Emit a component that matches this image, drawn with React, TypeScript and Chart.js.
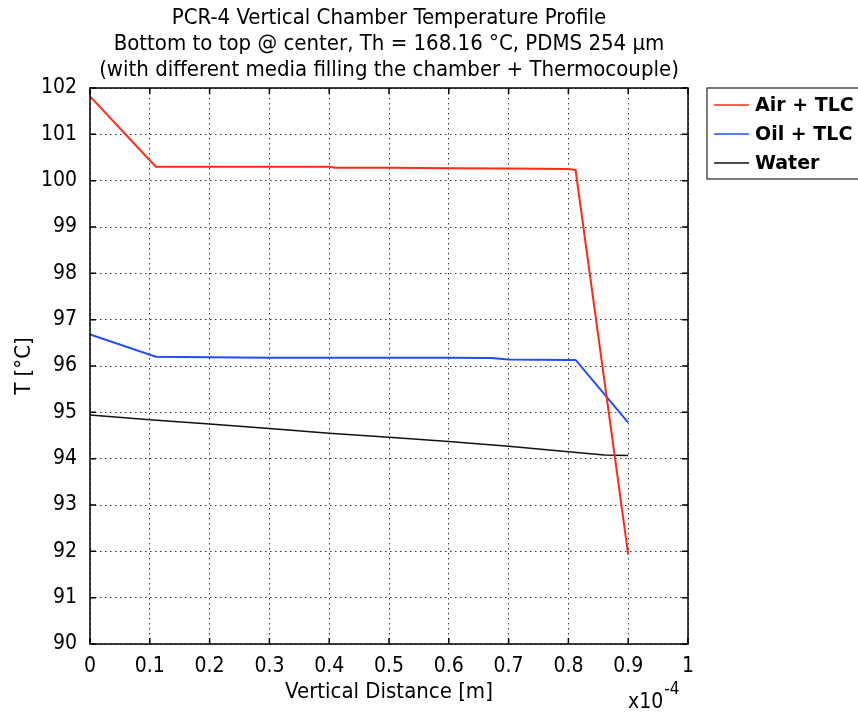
import React, { useEffect, useRef } from "react";
import { Chart, registerables } from "chart.js";

Chart.register(...registerables);

const FONT = '"DejaVu Sans Condensed", "Liberation Sans Narrow", "DejaVu Sans", sans-serif';
const LEGEND_FONT = '"DejaVu Sans", "Liberation Sans", sans-serif';

const titleLines = [
  "PCR-4 Vertical Chamber Temperature Profile",
  "Bottom to top @ center, Th = 168.16 °C, PDMS 254 µm",
  "(with different media filling the chamber + Thermocouple)",
];
const xAxisTitle = "Vertical Distance [m]";
const yAxisTitle = "T [°C]";
const seriesNames = ["Air + TLC", "Oil + TLC", "Water"];
const seriesColors = ["#ff2a14", "#1f4dff", "#111111"];

// x in units of 1e-4 m
const airX = [0, 0.11, 0.2, 0.3, 0.4, 0.41, 0.5, 0.6, 0.7, 0.8, 0.812, 0.9];
const airY = [101.82, 100.3, 100.3, 100.3, 100.3, 100.28, 100.28, 100.27, 100.26, 100.25, 100.23, 91.93];
const oilX = [0, 0.11, 0.2, 0.3, 0.4, 0.5, 0.6, 0.67, 0.7, 0.8, 0.812, 0.9];
const oilY = [96.68, 96.2, 96.19, 96.18, 96.18, 96.18, 96.18, 96.17, 96.14, 96.13, 96.13, 94.78];
const waterX = [0, 0.1, 0.2, 0.3, 0.4, 0.5, 0.6, 0.7, 0.8, 0.86, 0.9];
const waterY = [94.94, 94.84, 94.75, 94.65, 94.55, 94.46, 94.37, 94.27, 94.15, 94.08, 94.07];

const xMin = 0, xMax = 1, xStep = 0.1;
const yMin = 90, yMax = 102, yStep = 1;

const toPts = (xs: number[], ys: number[]) => xs.map((x, i) => ({ x, y: ys[i] }));

export default function App() {
  const ref = useRef<HTMLCanvasElement | null>(null);

  useEffect(() => {
    if (!ref.current) return;

    const decor = {
      id: "decor",
      beforeDraw(chart: any) {
        const { ctx, width, height } = chart;
        ctx.save();
        ctx.fillStyle = "#fff";
        ctx.fillRect(0, 0, width, height);
        ctx.restore();
      },
      afterDraw(chart: any) {
        const { ctx, chartArea: a, scales } = chart;
        ctx.save();
        // plot box
        ctx.strokeStyle = "#000";
        ctx.lineWidth = 1.5;
        ctx.setLineDash([]);
        ctx.strokeRect(a.left, a.top, a.right - a.left, a.bottom - a.top);
        // inner ticks
        const tl = 6;
        scales.x.ticks.forEach((t: any) => {
          const px = scales.x.getPixelForValue(t.value);
          ctx.beginPath();
          ctx.moveTo(px, a.bottom);
          ctx.lineTo(px, a.bottom - tl);
          ctx.moveTo(px, a.top);
          ctx.lineTo(px, a.top + tl);
          ctx.stroke();
        });
        scales.y.ticks.forEach((t: any) => {
          const py = scales.y.getPixelForValue(t.value);
          ctx.beginPath();
          ctx.moveTo(a.left, py);
          ctx.lineTo(a.left + tl, py);
          ctx.moveTo(a.right, py);
          ctx.lineTo(a.right - tl, py);
          ctx.stroke();
        });
        // title
        const cx = (a.left + a.right) / 2;
        ctx.fillStyle = "#000";
        ctx.textAlign = "center";
        ctx.textBaseline = "middle";
        ctx.font = `22px ${FONT}`;
        const ty = [18, 44, 70];
        titleLines.forEach((l, i) => ctx.fillText(l, cx, ty[i]));
        // axis titles
        ctx.fillText(xAxisTitle, cx, 692);
        ctx.save();
        ctx.translate(24, (a.top + a.bottom) / 2);
        ctx.rotate(-Math.PI / 2);
        ctx.fillText(yAxisTitle, 0, 0);
        ctx.restore();
        // exponent
        ctx.textAlign = "left";
        ctx.font = `21px ${FONT}`;
        ctx.fillText("x10", 628, 703);
        const w = ctx.measureText("x10").width;
        ctx.font = `17px ${FONT}`;
        ctx.fillText("-4", 628 + w + 1, 690);
        // legend
        const lx = 707, ly = 88, lh = 91;
        ctx.strokeStyle = "#222";
        ctx.lineWidth = 1.2;
        ctx.strokeRect(lx, ly, 200, lh);
        ctx.font = `bold 19px ${LEGEND_FONT}`;
        ctx.textBaseline = "middle";
        seriesNames.forEach((n, i) => {
          const y = 105 + i * 29;
          ctx.strokeStyle = seriesColors[i];
          ctx.lineWidth = 1.5;
          ctx.beginPath();
          ctx.moveTo(714, y);
          ctx.lineTo(749, y);
          ctx.stroke();
          ctx.fillStyle = "#000";
          ctx.fillText(n, 755, y + 1);
        });
        ctx.restore();
      },
    };

    const fmt = (v: number) => String(Number(v.toFixed(1)));

    const chart = new Chart(ref.current, {
      type: "scatter",
      data: {
        datasets: [
          { label: seriesNames[0], data: toPts(airX, airY), borderColor: seriesColors[0], showLine: true, pointRadius: 0, borderWidth: 2, order: 1 },
          { label: seriesNames[1], data: toPts(oilX, oilY), borderColor: seriesColors[1], showLine: true, pointRadius: 0, borderWidth: 2, order: 2 },
          { label: seriesNames[2], data: toPts(waterX, waterY), borderColor: seriesColors[2], showLine: true, pointRadius: 0, borderWidth: 1.5, order: 3 },
        ],
      },
      options: {
        animation: false,
        responsive: false,
        maintainAspectRatio: false,
        layout: { padding: { top: 88, right: 170, left: 0, bottom: 0 } },
        plugins: { legend: { display: false }, title: { display: false }, tooltip: { enabled: false } },
        scales: {
          x: {
            type: "linear",
            min: xMin,
            max: xMax,
            afterFit: (s: any) => { s.height = 68; },
            ticks: {
              stepSize: xStep,
              color: "#000",
              font: { family: FONT, size: 21 },
              padding: 10,
              maxRotation: 0,
              callback: (v: any) => fmt(Number(v)),
            },
            grid: { color: "#333", lineWidth: 1, drawTicks: false },
            border: { display: false, dash: [1.5, 3.5] },
          },
          y: {
            type: "linear",
            min: yMin,
            max: yMax,
            afterFit: (s: any) => { s.width = 90; },
            ticks: {
              stepSize: yStep,
              color: "#000",
              font: { family: FONT, size: 21 },
              padding: 13,
              callback: (v: any) => String(v),
            },
            grid: { color: "#333", lineWidth: 1, drawTicks: false },
            border: { display: false, dash: [1.5, 3.5] },
          },
        },
      },
      plugins: [decor],
    } as any);

    return () => chart.destroy();
  }, []);

  return (
    <div style={{ position: "fixed", left: 0, top: 0, width: 858, height: 712, background: "#fff" }}>
      <canvas ref={ref} width={858} height={712} style={{ display: "block", width: 858, height: 712 }} />
    </div>
  );
}
